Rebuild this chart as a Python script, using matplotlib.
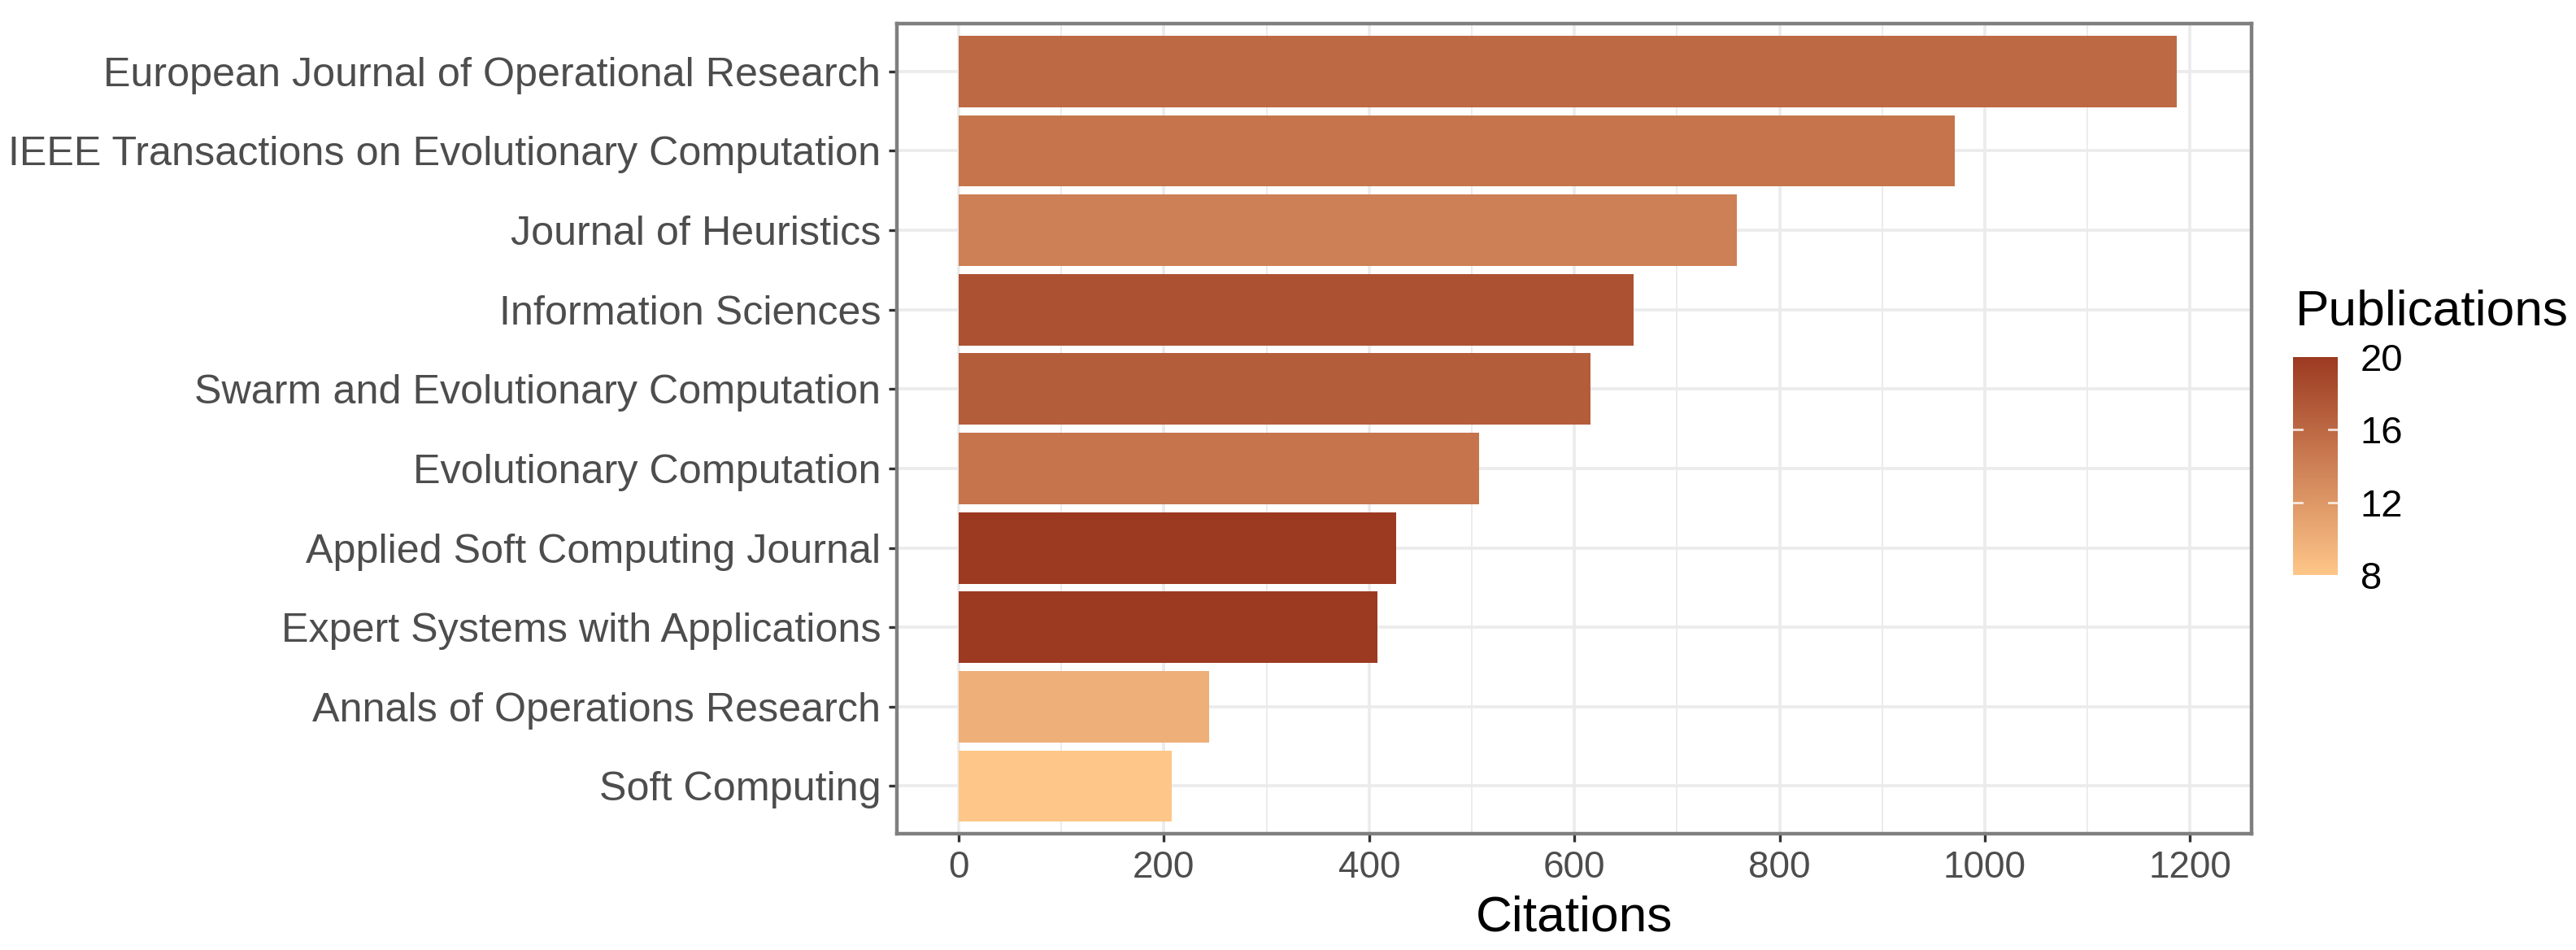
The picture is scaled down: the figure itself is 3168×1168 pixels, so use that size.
#!/usr/bin/env python3
import matplotlib
matplotlib.use('Agg')
import matplotlib.pyplot as plt
from matplotlib.colors import LinearSegmentedColormap, Normalize
from matplotlib.colorbar import ColorbarBase
import numpy as np

plt.rcParams['font.family'] = ['Liberation Sans', 'DejaVu Sans']

# top to bottom as in the picture
journals = [
    'European Journal of Operational Research',
    'IEEE Transactions on Evolutionary Computation',
    'Journal of Heuristics',
    'Information Sciences',
    'Swarm and Evolutionary Computation',
    'Evolutionary Computation',
    'Applied Soft Computing Journal',
    'Expert Systems with Applications',
    'Annals of Operations Research',
    'Soft Computing',
]
citations = [1187, 971, 758, 658, 616, 507, 426, 408, 244, 208]
publications = [16, 15, 14, 18, 17, 15, 20, 20, 10, 8]

cmap = LinearSegmentedColormap.from_list('pubs', ['#FEC689', '#9C3A21'])
norm = Normalize(vmin=8, vmax=20)

W, H, DPI = 3168, 1168, 200
fig = plt.figure(figsize=(W / DPI, H / DPI), dpi=DPI)
ax = fig.add_axes([1103.3 / W, 1 - 1025 / H, (2769 - 1103.3) / W, (1025 - 29.3) / H])

n = len(journals)
ypos = np.arange(n)[::-1] + 1
ax.barh(ypos, citations, height=0.9, color=cmap(norm(np.array(publications))), zorder=3)

ax.set_xlim(-60, 1260)
ax.set_ylim(0.4, n + 0.6)
ax.set_xticks(np.arange(0, 1201, 200))
ax.set_xticks(np.arange(100, 1201, 200), minor=True)
ax.set_yticks(ypos)
ax.set_yticklabels(journals)

ax.grid(which='major', color='#EBEBEB', linewidth=1.3, zorder=0)
ax.grid(which='minor', axis='x', color='#EBEBEB', linewidth=0.65, zorder=0)
ax.tick_params(which='major', length=3.6, width=1.2, color='#333333', pad=3.6,
               labelcolor='#4D4D4D')
ax.tick_params(axis='x', labelsize=16.5)
ax.tick_params(axis='y', labelsize=18.1)
ax.tick_params(which='minor', length=0)
for s in ax.spines.values():
    s.set_color('#7F7F7F')
    s.set_linewidth(1.6)
ax.set_xlabel('Citations', fontsize=22.4, labelpad=4)

# colourbar legend
cax = fig.add_axes([2820 / W, 1 - 707 / H, 55 / W, 268 / H])
cb = ColorbarBase(cax, cmap=cmap, norm=norm, orientation='vertical')
cb.set_ticks([8, 12, 16, 20])
cb.outline.set_visible(False)
cax.tick_params(length=0, labelsize=17, pad=10)
for t in [12, 16]:
    cax.plot([0, 0.2], [t, t], color='white', linewidth=1, alpha=0.8, transform=cax.get_yaxis_transform())
    cax.plot([0.8, 1], [t, t], color='white', linewidth=1, alpha=0.8, transform=cax.get_yaxis_transform())
fig.text(2823 / W, 1 - 400 / H, 'Publications', fontsize=22.4, ha='left', va='baseline')

fig.savefig('out.png', dpi=DPI)
